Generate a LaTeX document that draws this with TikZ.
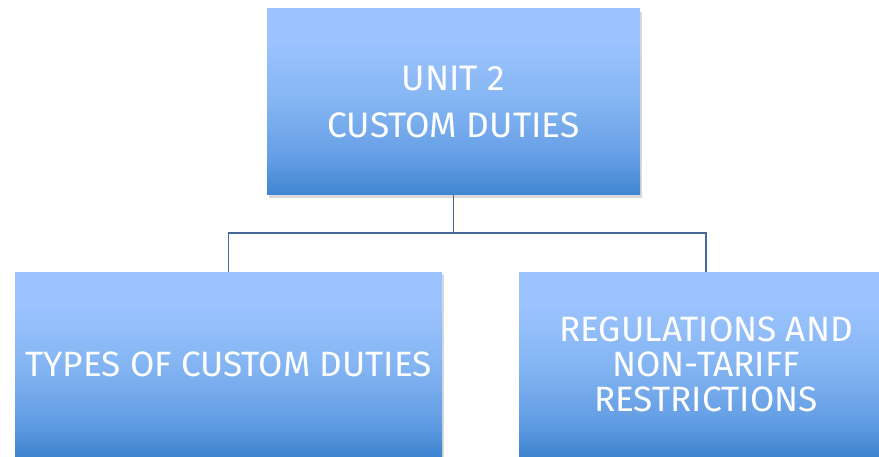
\documentclass[tikz,border=0pt]{standalone}
\usepackage{fontspec}
\setmainfont{Fira Sans}
\usetikzlibrary{shadows}
\definecolor{topc}{RGB}{155,195,253}
\definecolor{midc}{RGB}{132,181,243}
\definecolor{lowc}{RGB}{100,158,228}
\definecolor{botc}{RGB}{62,133,208}
\definecolor{linec}{RGB}{70,105,150}
\pgfdeclareverticalshading{boxshade}{100bp}{color(0bp)=(botc); color(25bp)=(botc); color(35bp)=(lowc); color(50bp)=(midc); color(66bp)=(topc); color(100bp)=(topc)}
\begin{document}
\begin{tikzpicture}[x=1pt,y=1pt,
  box/.style={shading=boxshade, text=white, align=center, inner sep=0pt,
    drop shadow={opacity=0.3, shadow xshift=2pt, shadow yshift=-3pt}},
  conn/.style={draw=linec, line width=1.8pt}]
\useasboundingbox (0,0) rectangle (879,456);
\node[box, minimum width=373pt, minimum height=186pt,
  font=\fontsize{35.4}{47}\selectfont] (top) at (453.5,354) {UNIT 2\\CUSTOM DUTIES};
\node[box, minimum width=427pt, minimum height=184pt,
  font=\fontsize{35.2}{36}\selectfont] (left) at (228.5,92) {TYPES OF CUSTOM DUTIES};
\node[box, minimum width=374pt, minimum height=184pt,
  font=\fontsize{35.2}{35}\selectfont] (right) at (706,92) {REGULATIONS AND\\NON-TARIFF\\RESTRICTIONS};
\coordinate (j) at (453.5,223);
\draw[conn] (top.south) -- (j) -| (left.north);
\draw[conn] (j) -| (right.north);
\end{tikzpicture}
\end{document}
